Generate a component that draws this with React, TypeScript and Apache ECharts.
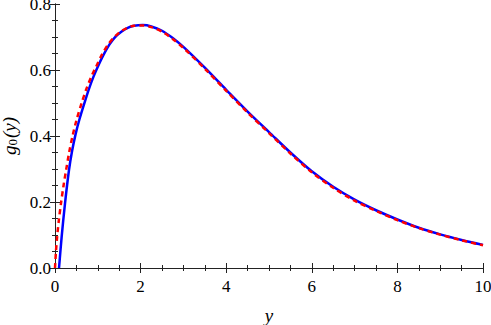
import React, { useEffect, useRef } from "react";
import * as echarts from "echarts";

// Blue solid curve: [y, g0(y)]
const blueX = [0.094, 0.156, 0.234, 0.327, 0.4, 0.48, 0.57, 0.7, 0.8, 0.9, 1.0, 1.13, 1.27, 1.4, 1.55, 1.7, 1.85, 2.05, 2.25, 2.5, 2.75, 3.0, 3.5, 4.0, 4.5, 5.0, 5.5, 6.0, 6.5, 7.0, 7.5, 8.0, 8.5, 9.0, 9.5, 10.0];
const blueY = [0.0, 0.095, 0.196, 0.297, 0.355, 0.405, 0.45, 0.505, 0.545, 0.58, 0.61, 0.645, 0.677, 0.699, 0.716, 0.728, 0.734, 0.736, 0.732, 0.719, 0.697, 0.670, 0.607, 0.540, 0.474, 0.412, 0.350, 0.293, 0.246, 0.207, 0.175, 0.147, 0.122, 0.102, 0.085, 0.070];

// Red dashed curve
const redX = [0.0, 0.02, 0.05, 0.09, 0.14, 0.2, 0.26, 0.33, 0.41, 0.5, 0.63, 0.74, 0.85, 0.96, 1.09, 1.24, 1.38, 1.53, 1.69, 1.85, 2.05, 2.25, 2.5, 2.75, 3.0, 3.5, 4.0, 4.5, 5.0, 5.5, 6.0, 6.5, 7.0, 7.5, 8.0, 8.5, 9.0, 9.5, 10.0];
const redY = [0.0, 0.045, 0.095, 0.145, 0.196, 0.25, 0.297, 0.35, 0.4, 0.447, 0.503, 0.545, 0.58, 0.61, 0.645, 0.677, 0.699, 0.716, 0.728, 0.734, 0.735, 0.730, 0.716, 0.694, 0.667, 0.604, 0.537, 0.471, 0.409, 0.347, 0.290, 0.243, 0.204, 0.173, 0.145, 0.121, 0.101, 0.084, 0.069];

const xTicks = [0, 2, 4, 6, 8, 10];
const yTicks = [0.0, 0.2, 0.4, 0.6, 0.8];

const FONT = "Liberation Serif";
const AXIS_COLOR = "#222";

export default function App() {
  const ref = useRef<HTMLDivElement>(null);
  useEffect(() => {
    if (!ref.current) return;
    const chart = echarts.init(ref.current, undefined, { renderer: "svg" });
    const blueData = blueX.map((x, i) => [x, blueY[i]]);
    const redData = redX.map((x, i) => [x, redY[i]]);
    const axisCommon = {
      type: "value" as const,
      axisLine: { show: true, lineStyle: { color: AXIS_COLOR, width: 1 } },
      axisTick: { show: true, inside: true, length: 5, lineStyle: { color: AXIS_COLOR, width: 1 } },
      minorTick: { show: true, splitNumber: 4, length: 3, lineStyle: { color: AXIS_COLOR, width: 1 } },
      splitLine: { show: false },
    };
    chart.setOption({
      animation: false,
      backgroundColor: "#fff",
      grid: { left: 55, right: 8, top: 4, bottom: 57, containLabel: false, outerBoundsMode: "none" },
      xAxis: [
        {
          ...axisCommon,
          min: xTicks[0],
          max: xTicks[xTicks.length - 1],
          interval: 2,
          position: "bottom",
          name: "y",
          nameLocation: "middle",
          nameGap: 38,
          nameTextStyle: { fontFamily: FONT, fontSize: 19, fontStyle: "italic", color: "#000" },
          axisLabel: { margin: 10, fontFamily: FONT, fontSize: 17, color: "#000" },
        },
        {
          ...axisCommon,
          min: xTicks[0],
          max: xTicks[xTicks.length - 1],
          interval: 2,
          position: "top",
          axisLabel: { show: false },
        },
      ],
      yAxis: [
        {
          ...axisCommon,
          min: yTicks[0],
          max: yTicks[yTicks.length - 1],
          interval: 0.2,
          position: "left",
          name: "{i|g}{s|0}{i|(y)}",
          nameLocation: "middle",
          nameGap: 35,
          nameRotate: 90,
          nameTextStyle: {
            fontFamily: FONT,
            fontSize: 19,
            color: "#000",
            rich: {
              i: { fontFamily: FONT, fontSize: 19, fontStyle: "italic", color: "#000" },
              s: { fontFamily: FONT, fontSize: 13, color: "#000", verticalAlign: "bottom", padding: [6, 1, 0, 0] },
            },
          },
          axisLabel: {
            margin: 4,
            fontFamily: FONT,
            fontSize: 17,
            lineHeight: 13,
            color: "#000",
            padding: [4, 0, 0, 0],
            formatter: (v: number) => v.toFixed(1),
          },
        },
        {
          ...axisCommon,
          min: yTicks[0],
          max: yTicks[yTicks.length - 1],
          interval: 0.2,
          position: "right",
          axisLabel: { show: false },
        },
      ],
      series: [
        {
          type: "line",
          data: blueData,
          smooth: 0.3,
          showSymbol: false,
          symbol: "none",
          lineStyle: { color: "#0000ff", width: 2.5 },
          z: 2,
        },
        {
          type: "line",
          data: redData,
          smooth: 0.3,
          showSymbol: false,
          symbol: "none",
          lineStyle: { color: "#ff0000", width: 2.5, type: [5, 4] },
          z: 3,
        },
      ],
    });
    return () => chart.dispose();
  }, []);
  return (
    <div
      ref={ref}
      style={{ position: "fixed", left: 0, top: 0, width: 491, height: 325 }}
    />
  );
}
